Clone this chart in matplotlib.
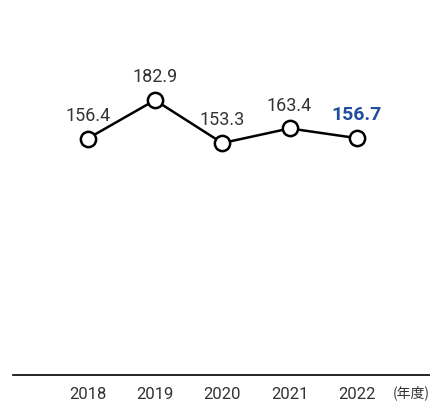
import matplotlib
matplotlib.use("Agg")
import matplotlib.pyplot as plt

years = [2018, 2019, 2020, 2021, 2022]
values = [156.4, 182.9, 153.3, 163.4, 156.7]
labels = ["156.4", "182.9", "153.3", "163.4", "156.7"]

plt.rcParams['font.family'] = ['Roboto', 'Noto Sans CJK JP', 'DejaVu Sans']

fig = plt.figure(figsize=(4.31, 4.03), dpi=100)
ax = fig.add_axes([0.030, 0.0695, 0.970, 0.9305])

ax.plot(years, values, color="black", lw=1.8, marker="o", ms=11,
        mfc="white", mec="black", mew=1.8, zorder=3, clip_on=False)

for x, v, t in zip(years[:-1], values[:-1], labels[:-1]):
    ax.annotate(t, (x, v), xytext=(0, 10), textcoords="offset points",
                ha="center", va="bottom", fontsize=13, color="#333333")
ax.annotate(labels[-1], (years[-1], values[-1]), xytext=(0, 10),
            textcoords="offset points", ha="center", va="bottom",
            fontsize=14, fontweight="bold", color="#1f4e9c")

ax.set_xlim(2016.89, 2023.10)
ax.set_ylim(-6.7, 252)
ax.set_xticks(years)
ax.set_xticklabels([str(y) for y in years], fontsize=12, color="#333333")
ax.tick_params(axis="x", length=0, pad=9)
ax.set_yticks([])
for s in ["top", "right", "left"]:
    ax.spines[s].set_visible(False)
ax.spines["bottom"].set_linewidth(1.2)

fig.text(0.998, 0.008, "(年度)", fontsize=10, color="#333333",
         ha="right", va="bottom", family=['Noto Sans CJK JP', 'DejaVu Sans'])

fig.savefig("out.png", dpi=100)
